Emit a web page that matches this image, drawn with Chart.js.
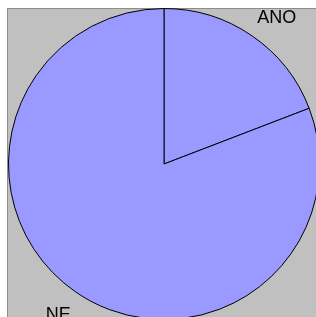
<!DOCTYPE html>
<html>
<head>
<meta charset="utf-8">
<script src="https://cdn.jsdelivr.net/npm/chart.js@4/dist/chart.umd.min.js"></script>
<style>
html, body { margin: 0; padding: 0; background: #fff; overflow: hidden; }
#wrap { position: absolute; left: 0; top: 0; width: 328px; height: 328px; }
</style>
</head>
<body>
<div id="wrap"><canvas id="pie" width="328" height="328"></canvas></div>
<script>
var categories = ['ANO', 'NE'];
var values = [23, 97];
var sliceColors = ['#9999FF', '#9999FF'];

// gray plot background with darker edge at top/left
var plotBg = {
    id: 'plotBg',
    beforeDraw: function(chart) {
        var c = chart.ctx;
        c.save();
        c.fillStyle = '#C0C0C0';
        c.fillRect(7, 8, chart.width - 7, chart.height - 8);
        c.strokeStyle = '#8C8C8C';
        c.lineWidth = 1;
        c.beginPath();
        c.moveTo(7.5, chart.height);
        c.lineTo(7.5, 8.5);
        c.lineTo(chart.width, 8.5);
        c.stroke();
        c.restore();
    }
};

// labels outside each slice, anchored at its mid angle
var sliceLabels = {
    id: 'sliceLabels',
    afterDatasetsDraw: function(chart) {
        var c = chart.ctx;
        var meta = chart.getDatasetMeta(0);
        c.save();
        c.font = '18px "Liberation Sans", Arial, sans-serif';
        c.fillStyle = '#000';
        meta.data.forEach(function(arc, i) {
            var mid = (arc.startAngle + arc.endAngle) / 2;
            var r = arc.outerRadius;
            var x = arc.x + Math.cos(mid) * r * 1.06;
            var y = arc.y + Math.sin(mid) * r * 1.1;
            c.textAlign = Math.cos(mid) >= 0 ? 'left' : 'right';
            c.textBaseline = 'alphabetic';
            if (Math.sin(mid) > 0) y += 15;
            c.fillText(categories[i], x, y);
        });
        c.restore();
    }
};

new Chart(document.getElementById('pie'), {
    type: 'pie',
    data: {
        labels: categories,
        datasets: [{
            data: values,
            backgroundColor: sliceColors,
            borderColor: '#000',
            borderWidth: 1,
            hoverOffset: 0,
            offset: 0
        }]
    },
    options: {
        responsive: false,
        animation: false,
        layout: { padding: 8 },
        plugins: {
            legend: { display: false },
            tooltip: { enabled: false }
        }
    },
    plugins: [plotBg, sliceLabels]
});
</script>
</body>
</html>
